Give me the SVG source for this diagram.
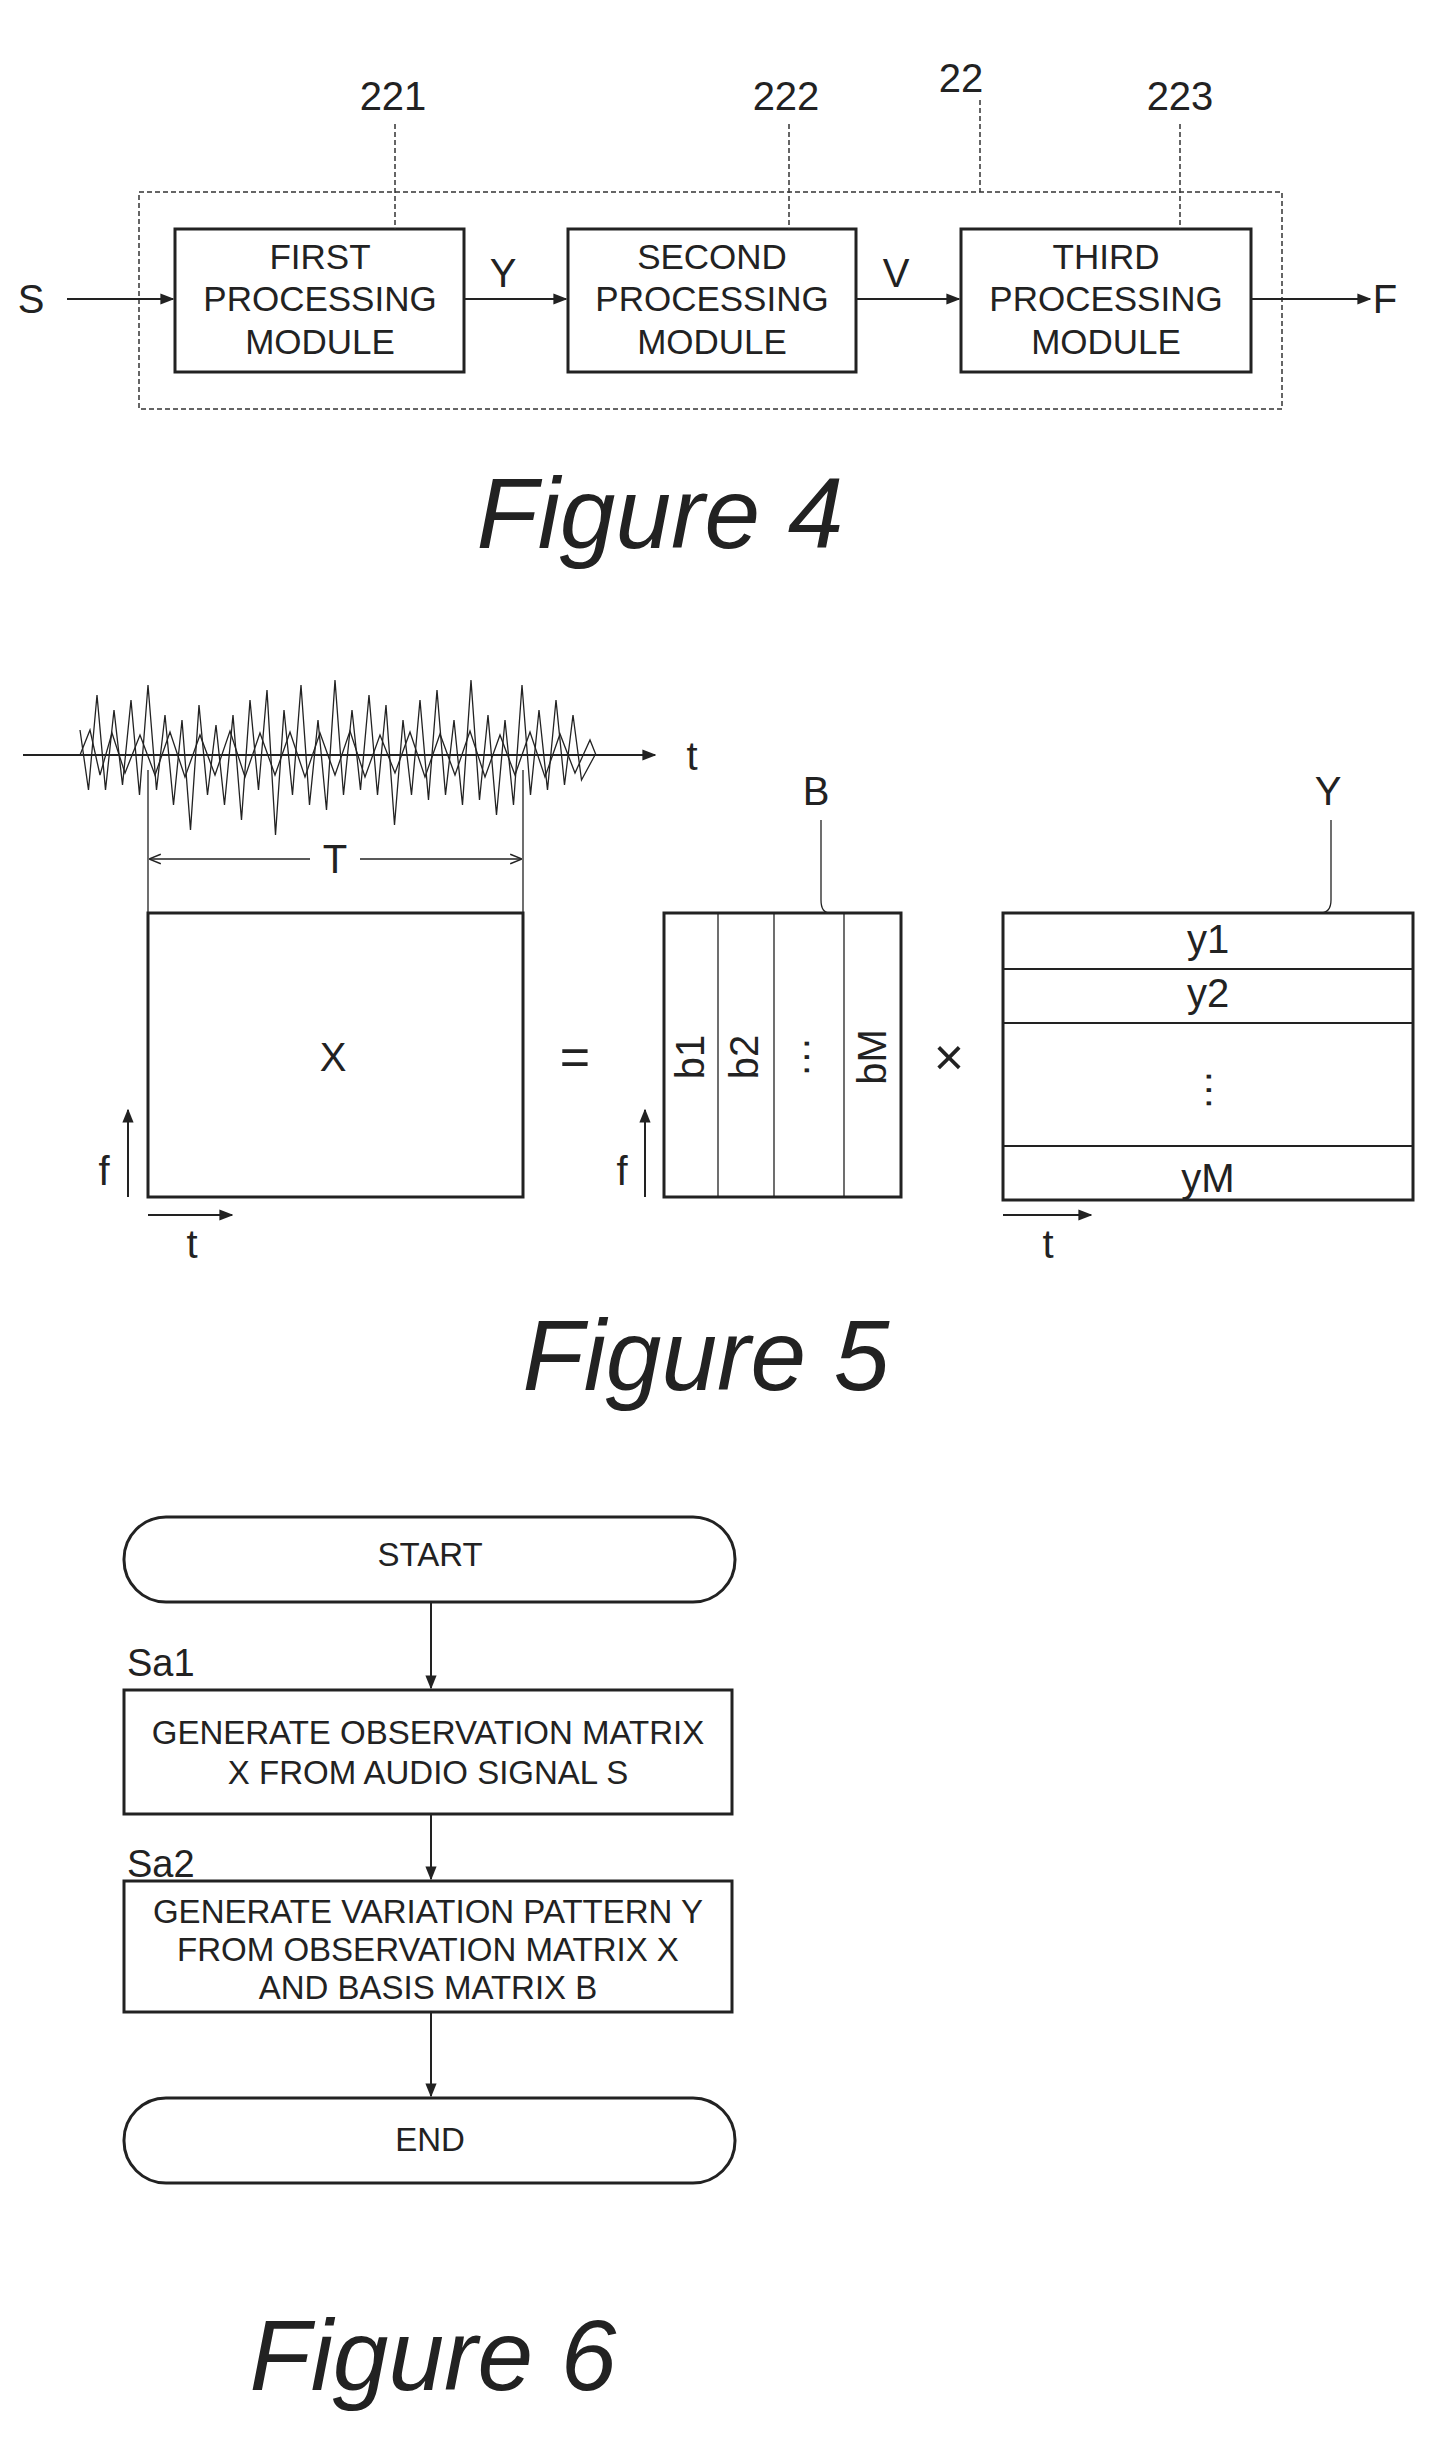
<svg xmlns="http://www.w3.org/2000/svg" width="1447" height="2446" viewBox="0 0 1447 2446">
<style>
text{font-family:"Liberation Sans",Arial,sans-serif;fill:#222}
.bx{fill:#fff;stroke:#222;stroke-width:3}
.ln{fill:none;stroke:#222;stroke-width:2}
.th{fill:none;stroke:#222;stroke-width:1.3}
.ds{fill:none;stroke:#333;stroke-width:1.5;stroke-dasharray:5 3}
.m{font-size:35px;text-anchor:middle}
.s{font-size:33px;text-anchor:middle}
.fig{font-size:100px;font-style:italic;text-anchor:middle}
.lbl{font-size:40px;text-anchor:middle}
.big{font-size:52px;text-anchor:middle}
</style>
<defs>
<marker id="ar" viewBox="0 0 10 10" refX="9" refY="5" markerWidth="14" markerHeight="14" orient="auto" markerUnits="userSpaceOnUse"><path d="M0,1L10,5L0,9z" fill="#222"/></marker>
<marker id="ao" viewBox="0 0 10 10" refX="9" refY="5" markerWidth="12" markerHeight="12" orient="auto-start-reverse" markerUnits="userSpaceOnUse"><path d="M0,1L10,5L0,9" fill="none" stroke="#222" stroke-width="1.2"/></marker>
</defs>

<!-- Figure 4 -->
<g id="fig4-container"><rect x="139" y="192" width="1143" height="217" class="ds"/><text x="961" y="92" class="lbl">22</text></g>
<g id="m221"><rect x="175" y="229" width="289" height="143" class="bx"/><text class="m"><tspan x="320" y="269">FIRST</tspan><tspan x="320" y="311">PROCESSING</tspan><tspan x="320" y="354">MODULE</tspan></text><text x="393" y="110" class="lbl">221</text></g>
<g id="m222"><rect x="568" y="229" width="288" height="143" class="bx"/><text class="m"><tspan x="712" y="269">SECOND</tspan><tspan x="712" y="311">PROCESSING</tspan><tspan x="712" y="354">MODULE</tspan></text><text x="786" y="110" class="lbl">222</text></g>
<g id="m223"><rect x="961" y="229" width="290" height="143" class="bx"/><text class="m"><tspan x="1106" y="269">THIRD</tspan><tspan x="1106" y="311">PROCESSING</tspan><tspan x="1106" y="354">MODULE</tspan></text><text x="1180" y="110" class="lbl">223</text></g>
<g id="io4"><text x="31" y="313" class="lbl">S</text><text x="1385" y="313" class="lbl">F</text><text x="503" y="287" class="lbl">Y</text><text x="896" y="287" class="lbl">V</text></g>
<g id="connectors4">
<path d="M395 124V229M789 124V229M1180 124V229M980 100V192" class="ds"/>
<path d="M67 299H173" class="ln" marker-end="url(#ar)"/>
<path d="M464 299H566" class="ln" marker-end="url(#ar)"/>
<path d="M856 299H959" class="ln" marker-end="url(#ar)"/>
<path d="M1251 299H1370" class="ln" marker-end="url(#ar)"/>
</g>
<text x="660" y="548" class="fig">Figure 4</text>

<!-- Figure 5 -->
<g id="waveform">
<path class="th" d="M80 730L88.5 790L97 695L105.5 790L114 710L122.5 785L131 700L139.5 795L148 685L156.5 790L165 715L173.5 805L182 720L190.5 830L199 705L207.5 795L216 725L224.5 805L233 715L241.5 820L250 700L258.5 790L267 690L275.5 835L284 710L292.5 795L301 685L309.5 805L318 720L326.5 810L335 680L343.5 795L352 710L360.5 790L369 695L377.5 795L386 705L394.5 825L403 720L411.5 795L420 700L428.5 800L437 690L445.5 795L454 720L462.5 805L471 680L479.5 800L488 715L496.5 815L505 720L513.5 805L522 685L530.5 795L539 710L547.5 790L556 700L564.5 785L573 715L581.5 780L595 755"/>
<path class="th" d="M80 755L90 730L100 775L112 733L125 773L140 735L155 775L170 732L185 777L200 735L215 775L230 731L245 777L260 733L275 775L290 732L305 777L320 733L335 775L350 731L365 777L380 735L395 773L410 732L425 777L440 734L455 775L470 731L485 777L500 735L515 775L530 732L545 777L560 734L575 773L590 740L596 755"/>
<path class="ln" d="M23 755H655" marker-end="url(#ar)"/>
<text x="692" y="770" class="lbl">t</text>
</g>
<g id="T-dim">
<path class="th" d="M148 770V913M523 770V913"/>
<path class="th" d="M310 859H150" marker-end="url(#ao)"/>
<path class="th" d="M360 859H521" marker-end="url(#ao)"/>
<text x="335" y="873" class="lbl">T</text>
</g>
<g id="X"><rect x="148" y="913" width="375" height="284" class="bx"/><text x="333" y="1071" class="lbl">X</text>
<path class="ln" d="M128 1197V1110" marker-end="url(#ar)"/><text x="104" y="1185" class="lbl">f</text>
<path class="ln" d="M148 1215H232" marker-end="url(#ar)"/><text x="192" y="1258" class="lbl">t</text></g>
<text x="575" y="1075" class="big">=</text>
<g id="B"><rect x="664" y="913" width="237" height="284" class="bx"/>
<path class="th" d="M718 913V1197M774 913V1197M844 913V1197"/>
<text class="lbl" transform="translate(704 1057) rotate(-90)">b1</text>
<text class="lbl" transform="translate(758 1057) rotate(-90)">b2</text>
<text class="lbl" transform="translate(818 1057) rotate(-90)">···</text>
<text class="lbl" transform="translate(886 1057) rotate(-90)">bM</text>
<text x="816" y="805" class="lbl">B</text><path class="th" d="M821 820V900Q821 913 830 913"/>
<path class="ln" d="M645 1197V1110" marker-end="url(#ar)"/><text x="622" y="1185" class="lbl">f</text></g>
<text x="949" y="1075" class="big">×</text>
<g id="Ymat"><rect x="1003" y="913" width="410" height="287" class="bx"/>
<path class="ln" d="M1003 969H1413M1003 1023H1413M1003 1146H1413"/>
<text x="1208" y="953" class="lbl">y1</text><text x="1208" y="1007" class="lbl">y2</text>
<text class="lbl" transform="translate(1220 1090) rotate(-90)">···</text>
<text x="1208" y="1192" class="lbl">yM</text>
<text x="1328" y="805" class="lbl">Y</text><path class="th" d="M1331 820V900Q1331 913 1320 913"/>
<path class="ln" d="M1003 1215H1091" marker-end="url(#ar)"/><text x="1048" y="1258" class="lbl">t</text></g>
<text x="706" y="1390" class="fig">Figure 5</text>

<!-- Figure 6 -->
<g id="start"><rect x="124" y="1517" width="611" height="85" rx="42" class="bx"/><text x="430" y="1566" class="s">START</text></g>
<g id="sa1"><text x="127" y="1676" font-size="38px" style="text-anchor:start">Sa1</text><rect x="124" y="1690" width="608" height="124" class="bx"/><text class="s"><tspan x="428" y="1744">GENERATE OBSERVATION MATRIX</tspan><tspan x="428" y="1784">X FROM AUDIO SIGNAL S</tspan></text></g>
<g id="sa2"><text x="127" y="1877" font-size="38px" style="text-anchor:start">Sa2</text><rect x="124" y="1881" width="608" height="131" class="bx"/><text class="s"><tspan x="428" y="1923">GENERATE VARIATION PATTERN Y</tspan><tspan x="428" y="1961">FROM OBSERVATION MATRIX X</tspan><tspan x="428" y="1999">AND BASIS MATRIX B</tspan></text></g>
<g id="end"><rect x="124" y="2098" width="611" height="85" rx="42" class="bx"/><text x="430" y="2151" class="s">END</text></g>
<g id="connectors6">
<path class="ln" d="M431 1602V1688" marker-end="url(#ar)"/>
<path class="ln" d="M431 1814V1879" marker-end="url(#ar)"/>
<path class="ln" d="M431 2012V2096" marker-end="url(#ar)"/>
</g>
<text x="433" y="2390" class="fig">Figure 6</text>
</svg>
